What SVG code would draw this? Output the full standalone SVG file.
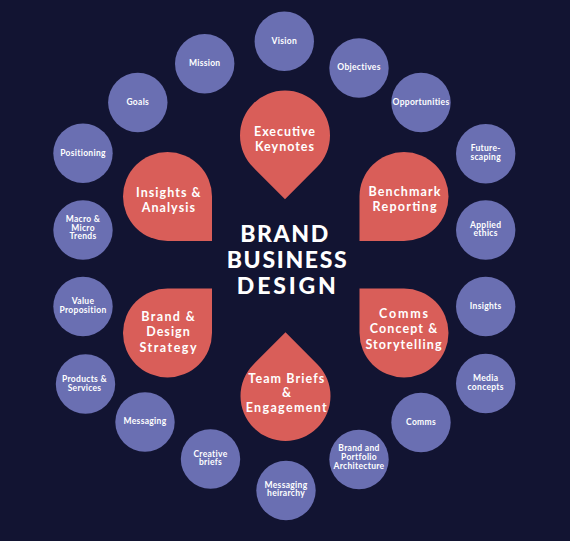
<svg xmlns="http://www.w3.org/2000/svg" width="570" height="541" viewBox="0 0 570 541">
<style>
.bg{fill:#121432}
.c{fill:#6a6fb2}
.t{fill:#d95e59}
.s{font-family:Lato,"Liberation Sans",sans-serif;font-weight:bold;font-size:8.5px;fill:#fff;text-anchor:middle;letter-spacing:0.3px}
.m{font-family:Lato,"Liberation Sans",sans-serif;font-weight:bold;font-size:12.5px;fill:#fff;text-anchor:middle}
.h{font-family:Lato,"Liberation Sans",sans-serif;font-weight:900;font-size:23px;fill:#fff;text-anchor:middle}
</style>
<rect class="bg" x="0" y="0" width="570" height="541"/>
<g id="connectors"/>
<g id="center-title">
<text class="h" x="284.2" y="241.7" textLength="88" lengthAdjust="spacing">BRAND</text>
<text class="h" x="286.7" y="268.3" textLength="120" lengthAdjust="spacing">BUSINESS</text>
<text class="h" x="286.3" y="294.3" textLength="99" lengthAdjust="spacing">DESIGN</text>
</g>
<g id="executive-keynotes">
<path class="t" d="M285 199.14 L253.18 167.32 A45 45 0 1 1 316.82 167.32 Z"/>
<text class="m" x="284.5" y="136" textLength="61" lengthAdjust="spacing">Executive</text>
<text class="m" x="284.5" y="150.7" textLength="59" lengthAdjust="spacing">Keynotes</text>
</g>
<g id="benchmark-reporting">
<path class="t" d="M404 241 L359.5 241 L359.5 196.5 A44.5 44.5 0 1 1 404 241 Z"/>
<text class="m" x="404.5" y="196" textLength="72" lengthAdjust="spacing">Benchmark</text>
<text class="m" x="404.5" y="211" textLength="64" lengthAdjust="spacing">Reporting</text>
</g>
<g id="insights-analysis">
<path class="t" d="M212 196.5 L212 241 L167.5 241 A44.5 44.5 0 1 1 212 196.5 Z"/>
<text class="m" x="168.3" y="197.3" textLength="64.5" lengthAdjust="spacing">Insights &amp;</text>
<text class="m" x="168.3" y="211.7" textLength="53.3" lengthAdjust="spacing">Analysis</text>
</g>
<g id="brand-design-strategy">
<path class="t" d="M167.5 288.5 L212 288.5 L212 333 A44.5 44.5 0 1 1 167.5 288.5 Z"/>
<text class="m" x="168" y="320.8" textLength="53.7" lengthAdjust="spacing">Brand &amp;</text>
<text class="m" x="168" y="336.4" textLength="43.6" lengthAdjust="spacing">Design</text>
<text class="m" x="168" y="351.9" textLength="57" lengthAdjust="spacing">Strategy</text>
</g>
<g id="comms-concept-storytelling">
<path class="t" d="M359.5 333 L359.5 288.5 L404 288.5 A44.5 44.5 0 1 1 359.5 333 Z"/>
<text class="m" x="403.5" y="318" textLength="48.8" lengthAdjust="spacing">Comms</text>
<text class="m" x="403.5" y="332.9" textLength="67.5" lengthAdjust="spacing">Concept &amp;</text>
<text class="m" x="403.5" y="348.5" textLength="76.2" lengthAdjust="spacing">Storytelling</text>
</g>
<g id="team-briefs-engagement">
<path class="t" d="M285.5 332.36 L317.32 364.18 A45 45 0 1 1 253.68 364.18 Z"/>
<text class="m" x="286.3" y="383.3" textLength="76" lengthAdjust="spacing">Team Briefs</text>
<text class="m" x="286.5" y="397.3">&amp;</text>
<text class="m" x="286.2" y="411.7" textLength="81" lengthAdjust="spacing">Engagement</text>
</g>
<g id="vision"><circle class="c" cx="284.3" cy="41.3" r="29.7"/><text class="s" x="284.3" y="43.6">Vision</text></g>
<g id="mission"><circle class="c" cx="204.7" cy="63.7" r="29.7"/><text class="s" x="204.7" y="66">Mission</text></g>
<g id="objectives"><circle class="c" cx="359" cy="68" r="29.7"/><text class="s" x="359" y="70.3">Objectives</text></g>
<g id="goals"><circle class="c" cx="137.8" cy="102.5" r="29.7"/><text class="s" x="137.8" y="104.8">Goals</text></g>
<g id="opportunities"><circle class="c" cx="421" cy="102.5" r="29.7"/><text class="s" x="421" y="104.8">Opportunities</text></g>
<g id="positioning"><circle class="c" cx="83" cy="153.3" r="29.7"/><text class="s" x="83" y="155.6">Positioning</text></g>
<g id="future-scaping"><circle class="c" cx="485.7" cy="153.7" r="29.7"/><text class="s" x="485.7" y="151.4">Future-</text><text class="s" x="485.7" y="160">scaping</text></g>
<g id="macro-micro-trends"><circle class="c" cx="83" cy="230" r="29.7"/><text class="s" x="83" y="221.6">Macro &amp;</text><text class="s" x="83" y="230.6">Micro</text><text class="s" x="83" y="239.4">Trends</text></g>
<g id="applied-ethics"><circle class="c" cx="485.7" cy="230" r="29.7"/><text class="s" x="485.7" y="227.7">Applied</text><text class="s" x="485.7" y="236.3">ethics</text></g>
<g id="value-proposition"><circle class="c" cx="83" cy="306.5" r="29.7"/><text class="s" x="83" y="304.2">Value</text><text class="s" x="83" y="312.8">Proposition</text></g>
<g id="insights"><circle class="c" cx="485.7" cy="306.5" r="29.7"/><text class="s" x="485.7" y="308.8">Insights</text></g>
<g id="products-services"><circle class="c" cx="85.5" cy="384" r="29.7"/><text class="s" x="84.5" y="382.3">Products &amp;</text><text class="s" x="84.5" y="391">Services</text></g>
<g id="media-concepts"><circle class="c" cx="485.7" cy="383.5" r="29.7"/><text class="s" x="485.7" y="381.2">Media</text><text class="s" x="485.7" y="389.8">concepts</text></g>
<g id="messaging"><circle class="c" cx="145" cy="422" r="29.7"/><text class="s" x="145" y="424.3">Messaging</text></g>
<g id="comms"><circle class="c" cx="421" cy="422.5" r="29.7"/><text class="s" x="421" y="424.8">Comms</text></g>
<g id="creative-briefs"><circle class="c" cx="210.5" cy="459" r="29.7"/><text class="s" x="210.5" y="456.7">Creative</text><text class="s" x="210.5" y="465.3">briefs</text></g>
<g id="brand-portfolio-architecture"><circle class="c" cx="359" cy="459.5" r="29.7"/><text class="s" x="359" y="451.3">Brand and</text><text class="s" x="359" y="460">Portfolio</text><text class="s" x="359" y="468.6">Architecture</text></g>
<g id="messaging-heirarchy"><circle class="c" cx="286" cy="490.5" r="29.7"/><text class="s" x="286" y="487.5">Messaging</text><text class="s" x="286" y="496">heirarchy</text></g>
</svg>
